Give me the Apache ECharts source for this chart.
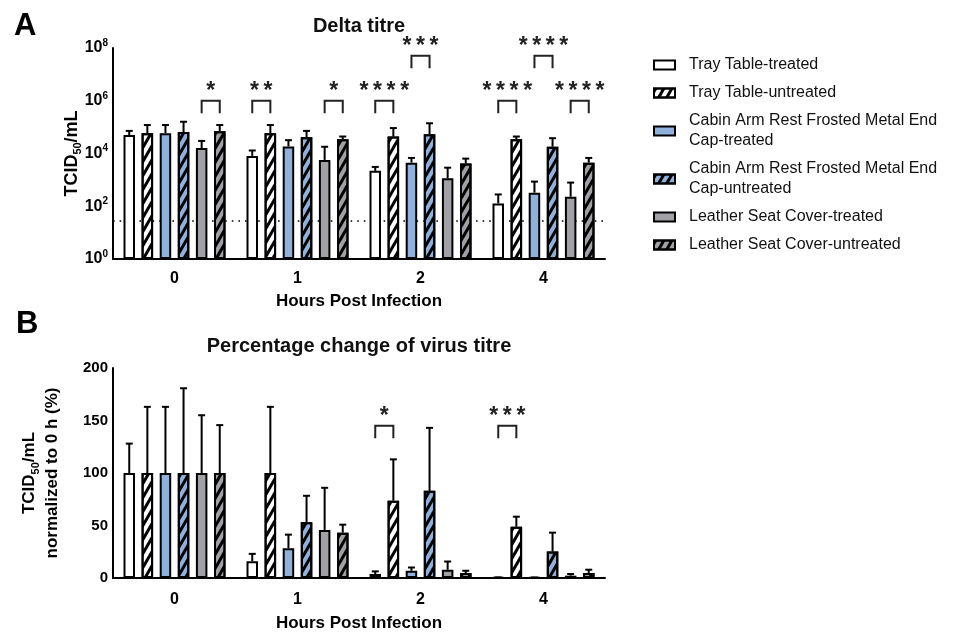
<!DOCTYPE html>
<html><head><meta charset="utf-8">
<script src="https://cdn.jsdelivr.net/npm/echarts@6/dist/echarts.min.js"></script>
<style>html,body{margin:0;padding:0;background:#fff}#c{width:962px;height:633px}</style>
</head><body><div id="c"></div>
<script>
// ---------- data ----------
const hours = ['0', '1', '2', '4'];
const seriesNames = [
  'Tray Table-treated', 'Tray Table-untreated',
  'Cabin Arm Rest Frosted Metal End Cap-treated', 'Cabin Arm Rest Frosted Metal End Cap-untreated',
  'Leather Seat Cover-treated', 'Leather Seat Cover-untreated'
];
// Panel A: delta titre (TCID50/mL), mean
const titreTrayT    = [5.0e4, 8.1e3, 2.2e3, 128];
const titreTrayU    = [5.9e4, 5.9e4, 4.4e4, 3.5e4];
const titreCabinT   = [5.9e4, 1.85e4, 4.5e3, 327];
const titreCabinU   = [6.5e4, 4.1e4, 5.4e4, 1.8e4];
const titreLeatherT = [1.6e4, 5.7e3, 1.15e3, 230];
const titreLeatherU = [7.0e4, 3.5e4, 4.2e3, 4.5e3];
// Panel A: upper end of error bar
const titreHiTrayT    = [7.2e4, 1.3e4, 3.1e3, 280];
const titreHiTrayU    = [1.2e5, 1.2e5, 9.2e4, 4.4e4];
const titreHiCabinT   = [1.2e5, 3.2e4, 6.8e3, 860];
const titreHiCabinU   = [1.6e5, 7.2e4, 1.4e5, 3.8e4];
const titreHiLeatherT = [3.0e4, 1.8e4, 2.9e3, 790];
const titreHiLeatherU = [1.2e5, 4.4e4, 6.4e3, 6.8e3];
const detectionLimit = 29;
// Panel B: percentage of 0 h titre
const pctTrayT    = [100, 16, 3.8, 0.6];
const pctTrayU    = [100, 100, 73.6, 48.9];
const pctCabinT   = [100, 28.4, 6.9, 0.5];
const pctCabinU   = [100, 53, 83, 25.2];
const pctLeatherT = [100, 45.8, 7.9, 2.2];
const pctLeatherU = [100, 43.2, 4.7, 4.7];
const pctHiTrayT    = [128, 23, 6.3, 0.6];
const pctHiTrayU    = [163, 163, 113, 58.4];
const pctHiCabinT   = [163, 41.3, 10, 0.5];
const pctHiCabinU   = [180.7, 78.3, 143, 43.2];
const pctHiLeatherT = [155, 85.9, 15.7, 3.8];
const pctHiLeatherU = [145.6, 50.8, 6.9, 7.9];
// significance: [hour index, bar a, bar b, bracket level, stars]
const sigA = [
  [0, 4, 5, 1e6, '*'], [1, 0, 1, 1e6, '**'], [1, 4, 5, 1e6, '*'],
  [2, 0, 1, 1e6, '****'], [2, 2, 3, 5.1e7, '***'],
  [3, 0, 1, 1e6, '****'], [3, 2, 3, 5.1e7, '****'], [3, 4, 5, 1e6, '****']
];
const sigB = [[2, 0, 1, 145, '*'], [3, 0, 1, 145, '***']];

// ---------- style ----------
const FONT = '"Liberation Sans", Arial, Helvetica, sans-serif';
const BLUE = '#8FB1DB', GRAY = '#A1A1A5';
const fills = ['#ffffff', '#ffffff', BLUE, BLUE, GRAY, GRAY];
const hatched = [false, true, false, true, false, true];
const BAR_W = 11.5, PITCH = 18.1, BAR_GAP = PITCH / BAR_W - 1, LEG = 12.5;

const meansA = [titreTrayT, titreTrayU, titreCabinT, titreCabinU, titreLeatherT, titreLeatherU];
const hiA = [titreHiTrayT, titreHiTrayU, titreHiCabinT, titreHiCabinU, titreHiLeatherT, titreHiLeatherU];
const meansB = [pctTrayT, pctTrayU, pctCabinT, pctCabinU, pctLeatherT, pctLeatherU];
const hiB = [pctHiTrayT, pctHiTrayU, pctHiCabinT, pctHiCabinU, pctHiLeatherT, pctHiLeatherU];

function itemStyle(i) {
  const s = { color: fills[i], borderColor: '#000', borderWidth: 2 };
  if (hatched[i]) {
    s.decal = { symbol: 'rect', symbolSize: 1, dashArrayX: [1, 0], dashArrayY: [2.8, 3.2],
      rotation: -Math.PI / 3, color: '#000' };
  }
  return s;
}

function barSeries(gi, means) {
  return means.map((d, i) => ({
    type: 'bar', name: seriesNames[i], xAxisIndex: gi, yAxisIndex: gi,
    barWidth: BAR_W, barGap: (BAR_GAP * 100) + '%', z: 2,
    itemStyle: itemStyle(i), emphasis: { disabled: true }, data: d
  }));
}

function errSeries(gi, means, his) {
  return means.map((d, idx) => ({
    type: 'custom', xAxisIndex: gi, yAxisIndex: gi, z: 3, silent: true,
    data: d.map((m, k) => [k, m, his[idx][k]]),
    renderItem(params, api) {
      const x = api.value(0);
      const p0 = api.coord([x, api.value(1)]);
      const p1 = api.coord([x, api.value(2)]);
      const cx = p0[0] + (idx - 2.5) * PITCH;
      return { type: 'group', children: [
        { type: 'line', shape: { x1: cx, y1: p0[1], x2: cx, y2: p1[1] }, style: { stroke: '#000', lineWidth: 2 } },
        { type: 'line', shape: { x1: cx - 3.5, y1: p1[1], x2: cx + 3.5, y2: p1[1] }, style: { stroke: '#000', lineWidth: 2 } }
      ] };
    }
  }));
}

function sigSeries(gi, sig) {
  return {
    type: 'custom', xAxisIndex: gi, yAxisIndex: gi, z: 4, silent: true,
    data: sig.map(s => [s[0], s[3]]),
    renderItem(params, api) {
      const s = sig[params.dataIndex];
      const p = api.coord([api.value(0), api.value(1)]);
      const xa = p[0] + (s[1] - 2.5) * PITCH, xb = p[0] + (s[2] - 2.5) * PITCH, y = p[1];
      return { type: 'group', children: [
        { type: 'polyline', shape: { points: [[xa, y + LEG], [xa, y], [xb, y], [xb, y + LEG]] },
          style: { stroke: '#222', lineWidth: 2, fill: null } },
        { type: 'text', x: (xa + xb) / 2, y: y - 9,
          style: { text: s[4].split('').join('\u2009'), fill: '#222', fontSize: 23, fontWeight: 'bold',
            fontFamily: FONT, align: 'center', verticalAlign: 'middle' } }
      ] };
    }
  };
}

const axisLine = { lineStyle: { color: '#000', width: 2 } };
const axisTick = { length: 6, lineStyle: { color: '#000', width: 2 } };
const catLabel = { color: '#000', fontSize: 16, fontWeight: 'bold', fontFamily: FONT };

const option = {
  animation: false,
  textStyle: { fontFamily: FONT },
  title: [
    { text: 'A', left: 14, top: 8, padding: 0, textStyle: { fontSize: 31, fontWeight: 'bold', lineHeight: 36, color: '#000', fontFamily: FONT } },
    { text: 'B', left: 16, top: 306, padding: 0, textStyle: { fontSize: 31, fontWeight: 'bold', lineHeight: 36, color: '#000', fontFamily: FONT } },
    { text: 'Delta titre', left: 359, textAlign: 'center', top: 14, padding: 0, textStyle: { fontSize: 20, fontWeight: 'bold', lineHeight: 24, color: '#111', fontFamily: FONT } },
    { text: 'Percentage change of virus titre', left: 359, textAlign: 'center', top: 334, padding: 0, textStyle: { fontSize: 20, fontWeight: 'bold', lineHeight: 24, color: '#111', fontFamily: FONT } }
  ],
  legend: {
    orient: 'vertical', left: 653, top: 55, padding: 0, itemGap: 8,
    itemWidth: 21, itemHeight: 9, icon: 'rect', selectedMode: false,
    data: seriesNames,
    formatter: n => n.replace('End ', 'End\n'),
    textStyle: { fontSize: 16, lineHeight: 20, color: '#111', fontFamily: FONT, padding: [0, 0, 0, 9] }
  },
  grid: [
    { left: 113, top: 48, width: 492, height: 211, containLabel: false },
    { left: 113, top: 368, width: 492, height: 211, containLabel: false }
  ],
  xAxis: [0, 1].map(gi => ({
    type: 'category', gridIndex: gi, data: hours,
    name: 'Hours Post Infection', nameLocation: 'middle', nameGap: gi ? 37 : 34, nameMoveOverlap: false,
    nameTextStyle: { fontSize: 17, fontWeight: 'bold', color: '#000', fontFamily: FONT },
    axisLine, axisTick: Object.assign({ alignWithLabel: true, interval: 0 }, axisTick),
    axisLabel: Object.assign({ margin: gi ? 14 : 12 }, catLabel),
    splitLine: { show: false }
  })),
  yAxis: [
    {
      type: 'log', gridIndex: 0, logBase: 10, min: 1, max: 1e8, interval: 2,
      axisLine: Object.assign({ show: true }, axisLine), axisTick, minorTick: { show: false },
      splitLine: { show: false },
      axisLabel: {
        margin: 5,
        formatter: v => '{b|10}{s|' + Math.round(Math.log10(v)) + '}',
        rich: {
          b: { fontSize: 16, fontWeight: 'bold', color: '#000', fontFamily: FONT, lineHeight: 20 },
          s: { fontSize: 10, fontWeight: 'bold', color: '#000', fontFamily: FONT, lineHeight: 10, verticalAlign: 'top' }
        }
      },
      name: '{n|TCID}{sub|50}{n|/mL}', nameLocation: 'middle', nameGap: 30, nameRotate: 90, nameMoveOverlap: false,
      nameTextStyle: {
        rich: {
          n: { fontSize: 18, fontWeight: 'bold', color: '#000', fontFamily: FONT, lineHeight: 22 },
          sub: { fontSize: 11, fontWeight: 'bold', color: '#000', fontFamily: FONT, lineHeight: 11, verticalAlign: 'bottom' }
        }
      }
    },
    {
      type: 'value', gridIndex: 1, min: 0, max: 200, interval: 50,
      axisLine: Object.assign({ show: true }, axisLine), axisTick,
      splitLine: { show: false },
      axisLabel: { margin: 5, color: '#000', fontSize: 15, fontWeight: 'bold', fontFamily: FONT },
      name: '{n|TCID}{sub|50}{n|/mL}\n{n|normalized to 0 h (%)}', nameLocation: 'middle', nameGap: 49, nameRotate: 90, nameMoveOverlap: false,
      nameTextStyle: {
        rich: {
          n: { fontSize: 17, fontWeight: 'bold', color: '#000', fontFamily: FONT, lineHeight: 23 },
          sub: { fontSize: 11, fontWeight: 'bold', color: '#000', fontFamily: FONT, lineHeight: 11, verticalAlign: 'bottom' }
        }
      }
    }
  ],
  series: [
    {
      type: 'line', xAxisIndex: 0, yAxisIndex: 0, data: [], z: 1, silent: true,
      markLine: {
        silent: true, symbol: 'none', z: 1, label: { show: false },
        lineStyle: { color: '#000', width: 1.6, type: [1.6, 5] },
        data: [{ yAxis: detectionLimit }]
      }
    },
    ...barSeries(0, meansA),
    ...barSeries(1, meansB),
    ...errSeries(0, meansA, hiA),
    ...errSeries(1, meansB, hiB),
    sigSeries(0, sigA),
    sigSeries(1, sigB)
  ]
};

const chart = echarts.init(document.getElementById('c'), null, { renderer: 'canvas' });
chart.setOption(option);
</script>
</body></html>
